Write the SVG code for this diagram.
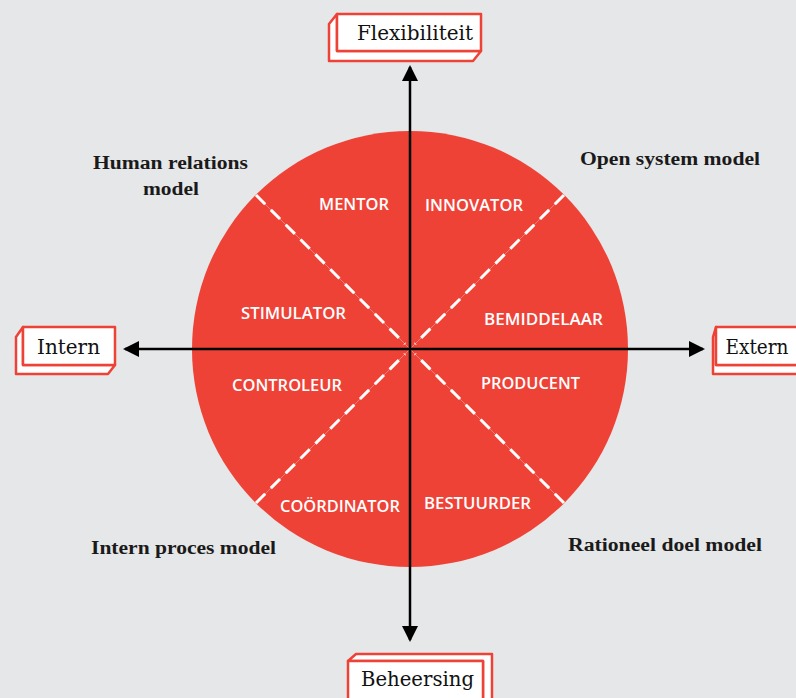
<svg xmlns="http://www.w3.org/2000/svg" width="796" height="698" viewBox="0 0 796 698">
  <defs>
    <style>
      .bg { fill: #e6e7e8; }
      .disc { fill: #ef4237; }
      .diag { stroke: #ffffff; stroke-width: 3; stroke-dasharray: 13 8; fill: none; }
      .diag-thin { stroke: #ffffff; stroke-width: 0.7; opacity: 0.45; fill: none; }
      .axis { stroke: #000000; stroke-width: 2.5; fill: none; }
      .role { font-family: "Open Sans", "Liberation Sans", sans-serif; font-weight: 600; font-size: 16.5px; fill: #ffffff; text-anchor: middle; }
      .model { font-family: "Liberation Serif", "DejaVu Serif", serif; font-weight: bold; font-size: 18.5px; fill: #1a1a1a; text-anchor: middle; }
      .box-front { fill: #ffffff; stroke: #ef4237; stroke-width: 2.5; stroke-linejoin: round; }
      .box-side { fill: #ffffff; stroke: #ef4237; stroke-width: 2.5; stroke-linejoin: round; }
      .box-label { font-family: "DejaVu Serif", "Liberation Serif", serif; font-size: 21px; fill: #111111; text-anchor: middle; }
    </style>
    <marker id="arrow" viewBox="0 0 16 16" refX="14" refY="8" markerWidth="16" markerHeight="16" markerUnits="userSpaceOnUse" orient="auto">
      <path d="M0,0 L16,8 L0,16 Z" fill="#000000"/>
    </marker>
  </defs>

  <rect class="bg" x="0" y="0" width="796" height="698"/>

  <!-- central disc with quadrant diagonals -->
  <g id="disc">
    <circle class="disc" cx="410" cy="349" r="218"/>
    <line class="diag-thin" x1="256" y1="195" x2="564" y2="503"/>
    <line class="diag-thin" x1="564" y1="195" x2="256" y2="503"/>
    <line class="diag" x1="256" y1="195" x2="405" y2="344"/>
    <line class="diag" x1="564" y1="195" x2="415" y2="344"/>
    <line class="diag" x1="256" y1="503" x2="405" y2="354"/>
    <line class="diag" x1="564" y1="503" x2="415" y2="354"/>
  </g>

  <!-- axes -->
  <g id="connectors">
    <line class="axis" x1="410" y1="349" x2="410" y2="67" marker-end="url(#arrow)"/>
    <line class="axis" x1="410" y1="349" x2="410" y2="640" marker-end="url(#arrow)"/>
    <line class="axis" x1="410" y1="349" x2="125" y2="349" marker-end="url(#arrow)"/>
    <line class="axis" x1="410" y1="349" x2="703" y2="349" marker-end="url(#arrow)"/>
  </g>

  <!-- role labels -->
  <g id="mentor"><text class="role" x="354" y="210" textLength="70" lengthAdjust="spacingAndGlyphs">MENTOR</text></g>
  <g id="innovator"><text class="role" x="474" y="211" textLength="98" lengthAdjust="spacingAndGlyphs">INNOVATOR</text></g>
  <g id="stimulator"><text class="role" x="293.5" y="319" textLength="105" lengthAdjust="spacingAndGlyphs">STIMULATOR</text></g>
  <g id="bemiddelaar"><text class="role" x="543.5" y="325" textLength="119" lengthAdjust="spacingAndGlyphs">BEMIDDELAAR</text></g>
  <g id="controleur"><text class="role" x="287" y="391" textLength="110" lengthAdjust="spacingAndGlyphs">CONTROLEUR</text></g>
  <g id="producent"><text class="role" x="530.5" y="389" textLength="99" lengthAdjust="spacingAndGlyphs">PRODUCENT</text></g>
  <g id="coordinator"><text class="role" x="340" y="512" textLength="120" lengthAdjust="spacingAndGlyphs">COÖRDINATOR</text></g>
  <g id="bestuurder"><text class="role" x="477.5" y="509" textLength="107" lengthAdjust="spacingAndGlyphs">BESTUURDER</text></g>

  <!-- model names -->
  <g id="human-relations">
    <text class="model" x="170.5" y="169" textLength="155" lengthAdjust="spacingAndGlyphs">Human relations</text>
    <text class="model" x="171" y="195" textLength="56" lengthAdjust="spacingAndGlyphs">model</text>
  </g>
  <g id="open-system"><text class="model" x="670" y="165" textLength="180" lengthAdjust="spacingAndGlyphs">Open system model</text></g>
  <g id="intern-proces"><text class="model" x="183.5" y="554" textLength="185" lengthAdjust="spacingAndGlyphs">Intern proces model</text></g>
  <g id="rationeel-doel"><text class="model" x="665" y="551" textLength="194" lengthAdjust="spacingAndGlyphs">Rationeel doel model</text></g>

  <!-- axis end boxes -->
  <g id="flexibiliteit">
    <path class="box-side" d="M337,14 L329,24 L329,61 L473,61 L481,51 L337,51 Z"/>
    <rect class="box-front" x="337" y="14" width="144" height="37"/>
    <text class="box-label" x="415" y="40" textLength="116" lengthAdjust="spacingAndGlyphs">Flexibiliteit</text>
  </g>
  <g id="intern">
    <path class="box-side" d="M23,327 L16,337 L16,374 L108,374 L115,365 L23,365 Z"/>
    <rect class="box-front" x="23" y="327" width="92" height="38"/>
    <text class="box-label" x="68.5" y="354" textLength="63" lengthAdjust="spacingAndGlyphs">Intern</text>
  </g>
  <g id="extern">
    <path class="box-side" d="M716,327 L713,337 L713,374 L800,374 L800,365 L716,365 Z"/>
    <rect class="box-front" x="716" y="327" width="90" height="38"/>
    <text class="box-label" x="757" y="354" textLength="63" lengthAdjust="spacingAndGlyphs">Extern</text>
  </g>
  <g id="beheersing">
    <path class="box-side" d="M348,661 L356,654 L492,654 L492,700 L483,705 L483,661 Z"/>
    <rect class="box-front" x="348" y="661" width="135" height="45"/>
    <text class="box-label" x="417.5" y="686" textLength="113" lengthAdjust="spacingAndGlyphs">Beheersing</text>
  </g>
</svg>
